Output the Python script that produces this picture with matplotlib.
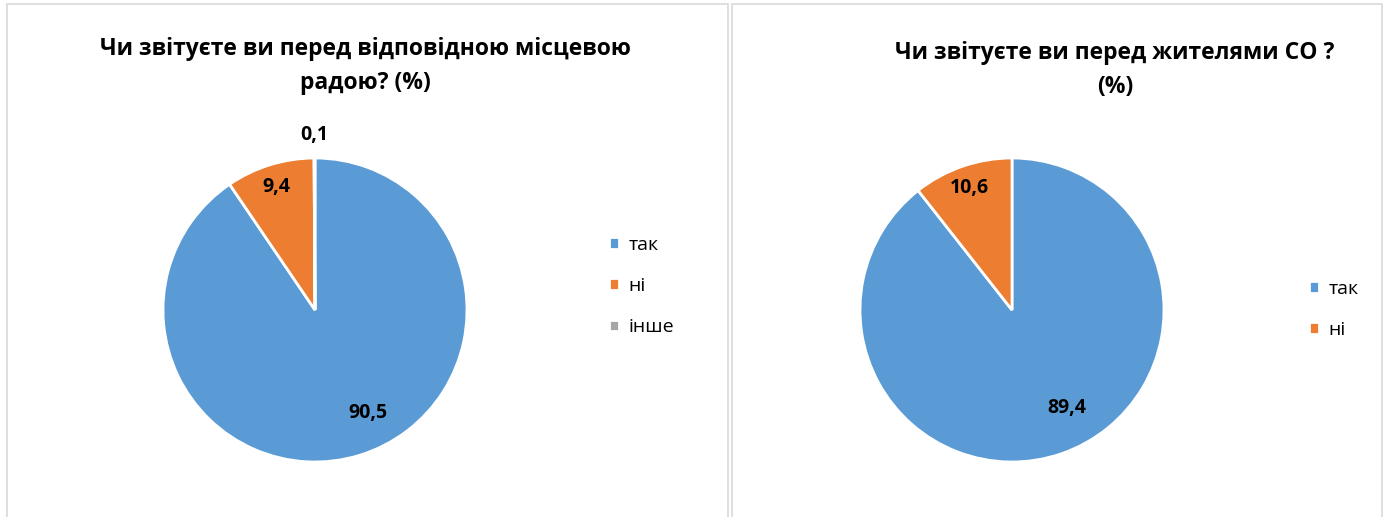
import numpy as np
import matplotlib
matplotlib.use('Agg')
import matplotlib.pyplot as plt
from matplotlib.patches import Rectangle

plt.rcParams['font.family'] = ['Open Sans', 'DejaVu Sans']

# left chart
left_title = 'Чи звітуєте ви перед відповідною місцевою\nрадою? (%)'
left_labels = ['так', 'ні', 'інше']
left_values = [90.5, 9.4, 0.1]
left_text = ['90,5', '9,4', '0,1']
left_dist = [0.76, 0.85, 1.15]

# right chart
right_title = 'Чи звітуєте ви перед жителями СО ?\n(%)'
right_labels = ['так', 'ні']
right_values = [89.4, 10.6]
right_text = ['89,4', '10,6']
right_dist = [0.74, 0.85]

colors = ['#5B9BD5', '#ED7D31', '#A5A5A5']

W, H = 1386, 517
fig = plt.figure(figsize=(W / 100, H / 100), dpi=100)


def px_rect(x0, y0, x1, y1):
    # pixel box (top-left origin) -> figure fraction
    return [x0 / W, 1 - y1 / H, (x1 - x0) / W, (y1 - y0) / H]


def draw_panel(cx, cy, r, values, texts, dists, labels, title, title_x, title_y,
               leg_x, leg_y):
    ax = fig.add_axes(px_rect(cx - r, cy - r, cx + r, cy + r))
    wedges, _ = ax.pie(values, colors=colors[:len(values)], startangle=90,
                       counterclock=False, radius=1,
                       wedgeprops=dict(edgecolor='white', linewidth=2))
    ax.set_xlim(-1, 1)
    ax.set_ylim(-1, 1)
    ax.set_aspect('equal')
    ax.axis('off')
    for i, (w, t, d) in enumerate(zip(wedges, texts, dists)):
        mid = (w.theta1 + w.theta2) / 2
        if i == 0:
            # excel nudges the big slice label toward the slice's start
            mid += 10
        ang = np.deg2rad(mid)
        ax.text(d * np.cos(ang), d * np.sin(ang), t, ha='center', va='center',
                fontsize=14, fontweight='bold', color='#000000')
    fig.text(title_x / W, 1 - title_y / H, title, ha='center', va='center',
             fontsize=16.5, fontweight='bold', linespacing=1.55)
    fig.legend(wedges, labels, loc='upper left',
               bbox_to_anchor=(leg_x / W, 1 - leg_y / H),
               frameon=False, fontsize=14, handlelength=0.55,
               handleheight=0.55, handletextpad=0.45, labelspacing=1.2,
               borderaxespad=0)
    return ax


draw_panel(315, 310, 152, left_values, left_text, left_dist, left_labels,
           left_title, 365, 66, 601, 228)
draw_panel(1012, 310, 152, right_values, right_text, right_dist, right_labels,
           right_title, 1115, 70, 1301, 272)

# chart borders
for x0, x1 in [(7, 728), (732, 1382)]:
    fig.add_artist(Rectangle((x0 / W, -0.05), (x1 - x0) / W, 1.05 - 4 / H,
                             transform=fig.transFigure, fill=False,
                             edgecolor='#D9D9D9', linewidth=1.2))

fig.savefig('out.png', dpi=100)
